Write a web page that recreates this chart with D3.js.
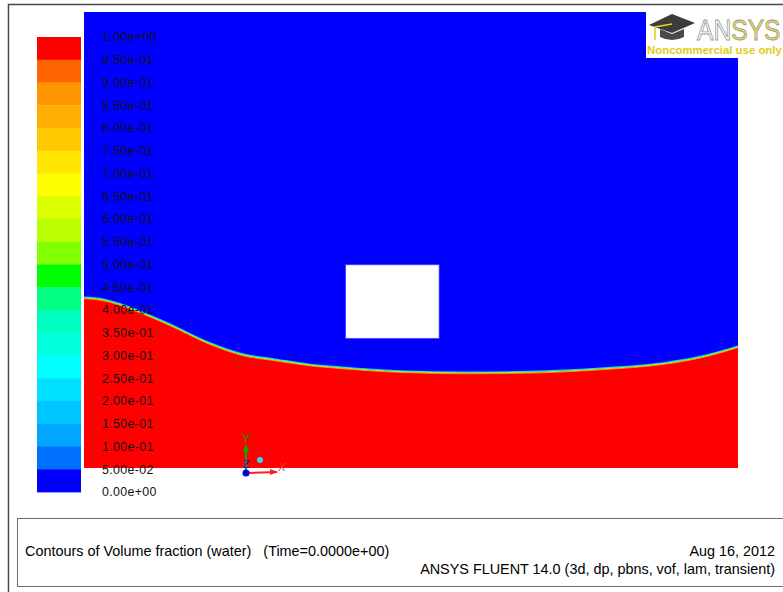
<!DOCTYPE html>
<html>
<head>
<meta charset="utf-8">
<script src="https://cdn.jsdelivr.net/npm/d3@7"></script>
<style>
  html, body { margin: 0; padding: 0; background: #fff; }
  svg { display: block; }
  text { font-family: "Liberation Sans", Arial, sans-serif; }
</style>
</head>
<body>
<svg id="chart" width="783" height="592"></svg>
<script>
// Contour levels (volume fraction of water) and their band colours, top to bottom
const levelLabels = ["1.00e+00","9.50e-01","9.00e-01","8.50e-01","8.00e-01","7.50e-01","7.00e-01",
  "6.50e-01","6.00e-01","5.50e-01","5.00e-01","4.50e-01","4.00e-01","3.50e-01","3.00e-01",
  "2.50e-01","2.00e-01","1.50e-01","1.00e-01","5.00e-02","0.00e+00"];
const levelValues = [1.00,0.95,0.90,0.85,0.80,0.75,0.70,0.65,0.60,0.55,0.50,0.45,0.40,0.35,0.30,
  0.25,0.20,0.15,0.10,0.05,0.00];
const bandColors = ["#ff0000","#ff6400","#ff9600","#ffaf00","#ffc800","#ffe600","#ffff00",
  "#dcff00","#bcff00","#82ff00","#00ff00","#00ff82","#00ffbe","#00ffdc","#00ffff",
  "#00e0ff","#00c4ff","#00a6ff","#0070ff","#0000ff"];

// Tank domain (m) and free-surface height along the tank
const tankWidth = 1.0;
const tankHeight = 0.7;
const surfaceX = [0.000,0.024,0.055,0.089,0.131,0.190,0.246,0.292,0.346,0.391,0.483,0.586,0.682,0.789,0.891,0.942,1.000];
const surfaceH = [0.261,0.259,0.251,0.238,0.220,0.192,0.173,0.166,0.158,0.154,0.148,0.146,0.147,0.152,0.161,0.170,0.186];

// Solid obstacle inside the tank (excluded from the mesh)
const obstacleX = [0.400, 0.543];
const obstacleY = [0.199, 0.312];

const svg = d3.select("#chart");

// Outer viewer frame
svg.append("path")
  .attr("d", "M8.5,592 V4.5 H783")
  .attr("fill", "none").attr("stroke", "#4a4a4a").attr("stroke-width", 1.5);

// Domain scales
const x = d3.scaleLinear().domain([0, tankWidth]).range([84, 738]);
const y = d3.scaleLinear().domain([0, tankHeight]).range([468, 12]);

// Air (volume fraction 0)
svg.append("rect")
  .attr("x", x(0)).attr("y", y(tankHeight))
  .attr("width", x(tankWidth) - x(0)).attr("height", y(0) - y(tankHeight))
  .attr("fill", bandColors[bandColors.length - 1]);

const surface = surfaceX.map((d, i) => [d, surfaceH[i]]);

// Water (volume fraction 1)
const area = d3.area().x(d => x(d[0])).y0(y(0)).y1(d => y(d[1])).curve(d3.curveMonotoneX);
svg.append("path").datum(surface).attr("d", area).attr("fill", bandColors[0]);

// Thin smeared interface layer
const line = d3.line().x(d => x(d[0])).y(d => y(d[1])).curve(d3.curveMonotoneX);
const iface = svg.append("g");
iface.append("path").datum(surface).attr("d", line)
  .attr("transform", "translate(0,-0.8)")
  .attr("fill", "none").attr("stroke", "#00d8ff").attr("stroke-width", 1.3);
iface.append("path").datum(surface).attr("d", line)
  .attr("fill", "none").attr("stroke", "#9cff20").attr("stroke-width", 1.0);
iface.append("path").datum(surface).attr("d", line)
  .attr("transform", "translate(0,0.8)")
  .attr("fill", "none").attr("stroke", "#ffd000").attr("stroke-width", 0.7);

// Obstacle
svg.append("rect")
  .attr("x", x(obstacleX[0])).attr("y", y(obstacleY[1]))
  .attr("width", x(obstacleX[1]) - x(obstacleX[0]))
  .attr("height", y(obstacleY[0]) - y(obstacleY[1]))
  .attr("fill", "#ffffff").attr("stroke", "#4040ff").attr("stroke-width", 0.8);

// Colour legend
const ly = d3.scaleLinear().domain([1, 0]).range([37, 492]);
const legend = svg.append("g");
legend.selectAll("rect").data(bandColors).join("rect")
  .attr("x", 37).attr("width", 44)
  .attr("y", (d, i) => ly(levelValues[i]))
  .attr("height", (d, i) => ly(levelValues[i + 1]) - ly(levelValues[i]) + 0.4)
  .attr("fill", d => d);
legend.selectAll("text").data(levelLabels).join("text")
  .attr("x", 102).attr("y", (d, i) => ly(levelValues[i]))
  .attr("dy", "0.36em")
  .attr("font-size", "12.4px").attr("letter-spacing", "0.35px").attr("fill", "#111")
  .text(d => d);

// Coordinate triad
const triad = svg.append("g");
const ox = 246, oy = 473;
triad.append("line").attr("x1", ox).attr("y1", oy).attr("x2", ox).attr("y2", 446)
  .attr("stroke", "#00b000").attr("stroke-width", 2);
triad.append("path").attr("d", `M${ox - 3},${452} L${ox},${444} L${ox + 3},${452} Z`).attr("fill", "#00b000");
triad.append("text").attr("x", ox).attr("y", 443).attr("text-anchor", "middle")
  .attr("font-size", "12px").attr("fill", "#00a000").text("Y");
triad.append("line").attr("x1", ox).attr("y1", oy).attr("x2", 277).attr("y2", oy - 1)
  .attr("stroke", "#ff2020").attr("stroke-width", 2);
triad.append("path").attr("d", `M${270},${oy - 4} L${278},${oy - 1} L${270},${oy + 2} Z`).attr("fill", "#ff2020");
triad.append("text").attr("x", 282).attr("y", 471).attr("text-anchor", "middle")
  .attr("font-size", "11px").attr("font-style", "italic").attr("fill", "#ff3030").text("X");
triad.append("text").attr("x", ox).attr("y", 468).attr("text-anchor", "middle")
  .attr("font-size", "11px").attr("fill", "#1010e0").text("Z");
triad.append("circle").attr("cx", ox).attr("cy", oy).attr("r", 3.5).attr("fill", "#0000e0");
triad.append("circle").attr("cx", 260).attr("cy", 460).attr("r", 3).attr("fill", "#20e0f0");

// Licence badge
const logo = svg.append("g");
logo.append("rect").attr("x", 646).attr("y", 12).attr("width", 137).attr("height", 46).attr("fill", "#ffffff");
logo.append("path").attr("d", "M649,25 L672,14 L695,23 L672,33 Z").attr("fill", "#3c3c3c");
logo.append("path").attr("d", "M660,29 L660,37 Q672,43 684,37 L684,29 L672,34 Z").attr("fill", "#4a4a4a");
logo.append("path").attr("d", "M672,24 L655,27 L655,40").attr("fill", "none")
  .attr("stroke", "#e8d020").attr("stroke-width", 1.6);
const wordmark = [["AN", "#ffffff"], ["SYS", "#f0e040"]];
logo.append("text")
  .attr("transform", "translate(697,40) scale(0.85,1)")
  .attr("font-size", "29px")
  .attr("stroke", "#9a9a9a").attr("stroke-width", 0.9)
  .selectAll("tspan").data(wordmark).join("tspan")
  .attr("fill", d => d[1]).text(d => d[0]);
logo.append("text").attr("x", 647).attr("y", 54)
  .attr("font-size", "11.4px").attr("font-weight", "bold").attr("fill", "#e0cc18")
  .text("Noncommercial use only");

// Caption box
svg.append("rect").attr("x", 17.5).attr("y", 518.5).attr("width", 780).attr("height", 68)
  .attr("fill", "none").attr("stroke", "#6a6a6a").attr("stroke-width", 1);
svg.append("text").attr("x", 25).attr("y", 556).attr("font-size", "14.4px")
  .attr("fill", "#000").style("white-space", "pre")
  .text("Contours of Volume fraction (water)   (Time=0.0000e+00)");
svg.append("text").attr("x", 775).attr("y", 556).attr("text-anchor", "end")
  .attr("font-size", "14.4px").attr("fill", "#000").text("Aug 16, 2012");
svg.append("text").attr("x", 775).attr("y", 574).attr("text-anchor", "end")
  .attr("font-size", "14.4px").attr("fill", "#000")
  .text("ANSYS FLUENT 14.0 (3d, dp, pbns, vof, lam, transient)");
</script>
</body>
</html>
